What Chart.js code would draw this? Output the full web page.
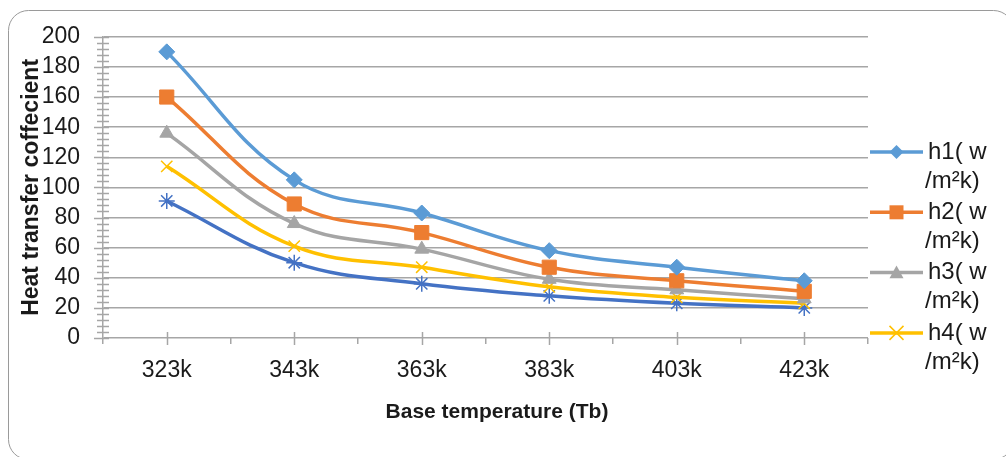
<!DOCTYPE html>
<html lang="en">
<head>
<meta charset="UTF-8">
<title>Heat transfer coeffecient vs base temperature</title>
<style>
  html, body { margin: 0; padding: 0; background: #fff; }
  .wrap { width: 1006px; height: 457px; }
  canvas { display: block; }
</style>
</head>
<body>
<div class="wrap"><canvas id="chart" width="1006" height="457"></canvas></div>

<script src="https://cdn.jsdelivr.net/npm/chart.js"></script>
<script>
// data
const categories = ['323k', '343k', '363k', '383k', '403k', '423k'];
const h1 = [190, 105, 83, 58, 47, 38];
const h2 = [160, 89, 70, 47, 38, 31];
const h3 = [136, 76, 59, 39, 32, 26];
const h4 = [114, 61, 47, 34, 27, 23];
const h5 = [91, 50, 36, 28, 23, 20];

const seriesNames = ['h1( w', 'h2( w', 'h3( w', 'h4( w', 'h5( w'];
const unitLine = '/m²k)';
const xTitle = 'Base temperature (Tb)';
const yTitle = 'Heat transfer coffecient';

const colors = ['#5b9bd5', '#ed7d31', '#a5a5a5', '#ffc000', '#4472c4'];
const styles = ['rectRot', 'rect', 'triangle', 'crossRot', 'star'];
const radii = [8, 10, 8, 8, 8];

const FONT = '"Liberation Sans", Arial, sans-serif';
const TEXT = '#1a1a1a';
const GRID = '#a6a6a6';

Chart.defaults.font.family = FONT;

function makeSet(i, values) {
    const thin = styles[i] === 'crossRot' || styles[i] === 'star';
    return {
        label: seriesNames[i] + ' ' + unitLine,
        data: values,
        borderColor: colors[i],
        backgroundColor: colors[i],
        borderWidth: 3.5,
        tension: 0.4,
        fill: false,
        pointStyle: styles[i],
        pointRadius: radii[i],
        pointBackgroundColor: colors[i],
        pointBorderColor: colors[i],
        pointBorderWidth: thin ? 1.5 : 1
    };
}

// little marker shapes for the hand-drawn legend
function marker(ctx, style, x, y, r) {
    ctx.beginPath();
    if (style === 'rectRot') {
        ctx.moveTo(x, y - r); ctx.lineTo(x + r, y); ctx.lineTo(x, y + r); ctx.lineTo(x - r, y);
        ctx.closePath(); ctx.fill();
    } else if (style === 'rect') {
        ctx.rect(x - r, y - r, 2 * r, 2 * r); ctx.fill();
    } else if (style === 'triangle') {
        ctx.moveTo(x, y - r); ctx.lineTo(x + r, y + r * 0.8); ctx.lineTo(x - r, y + r * 0.8);
        ctx.closePath(); ctx.fill();
    } else {
        ctx.lineWidth = 1.5;
        ctx.moveTo(x - r, y - r); ctx.lineTo(x + r, y + r);
        ctx.moveTo(x + r, y - r); ctx.lineTo(x - r, y + r);
        ctx.stroke();
    }
}

const decor = {
    id: 'decor',
    beforeDraw(chart) {
        const ctx = chart.ctx;
        ctx.save();
        ctx.fillStyle = '#fff';
        ctx.fillRect(0, 0, chart.width, chart.height);
        // chart frame (rounded, runs off right and bottom)
        ctx.strokeStyle = '#9a9a9a';
        ctx.lineWidth = 1;
        ctx.beginPath();
        ctx.roundRect(8.5, 10.5, 1005, 449, 20);
        ctx.stroke();
        ctx.restore();
    },
    beforeDatasetsDraw(chart) {
        const ctx = chart.ctx;
        const xs = chart.scales.x, ys = chart.scales.y;
        const area = chart.chartArea;
        ctx.save();
        ctx.strokeStyle = GRID;
        ctx.lineWidth = 1.5;
        ctx.beginPath();
        // y ticks crossing the axis
        ys.ticks.forEach(t => {
            const y = Math.round(ys.getPixelForValue(t.value)) + 0.5;
            const major = t.value % 20 === 0;
            ctx.moveTo(area.left - (major ? 9 : 6), y);
            ctx.lineTo(area.left + 6, y);
        });
        // x ticks at category centres
        categories.forEach((c, i) => {
            const x = Math.round(xs.getPixelForValue(i)) + 0.5;
            ctx.moveTo(x, area.bottom - 6);
            ctx.lineTo(x, area.bottom + 7);
        });
        ctx.stroke();
        ctx.restore();
    },
    afterDraw(chart) {
        const ctx = chart.ctx;
        const area = chart.chartArea;
        ctx.save();
        ctx.fillStyle = TEXT;
        // axis titles
        ctx.font = 'bold 21px ' + FONT;
        ctx.textAlign = 'center';
        ctx.textBaseline = 'middle';
        ctx.fillText(xTitle, 497, 412);
        ctx.translate(32, (area.top + area.bottom) / 2);
        ctx.rotate(-Math.PI / 2);
        ctx.font = 'bold 23px ' + FONT;
        ctx.fillText(yTitle, 0, 0);
        ctx.restore();

        // legend on the right, only four entries fit
        ctx.save();
        ctx.font = '24px ' + FONT;
        ctx.textBaseline = 'middle';
        ctx.textAlign = 'left';
        for (let i = 0; i < 4; i++) {
            const y = 152 + i * 60.3;
            ctx.strokeStyle = colors[i];
            ctx.fillStyle = colors[i];
            ctx.lineWidth = 3.5;
            ctx.beginPath();
            ctx.moveTo(870, y);
            ctx.lineTo(923, y);
            ctx.stroke();
            marker(ctx, styles[i], 896.5, y, 7);
            ctx.fillStyle = TEXT;
            ctx.fillText(seriesNames[i], 928, y);
            ctx.fillText(unitLine, 925, y + 29);
        }
        ctx.restore();
    }
};

const chart = new Chart(document.getElementById('chart'), {
    type: 'line',
    data: {
        labels: categories,
        datasets: [makeSet(0, h1), makeSet(1, h2), makeSet(2, h3), makeSet(3, h4), makeSet(4, h5)]
    },
    options: {
        responsive: false,
        animation: false,
        layout: { padding: { top: 36, right: 138, left: 0, bottom: 0 } },
        plugins: {
            legend: { display: false },
            tooltip: { enabled: false }
        },
        scales: {
            x: {
                offset: true,
                afterFit: s => { s.height = 119; },
                border: { display: false },
                grid: { offset: true, drawOnChartArea: false, tickLength: 6, color: GRID, lineWidth: 1.5 },
                ticks: { padding: 13, color: TEXT, font: { size: 23 }, maxRotation: 0 }
            },
            y: {
                min: 0,
                max: 200,
                afterFit: s => { s.width = 103; },
                border: { color: GRID, width: 1.5 },
                grid: {
                    drawTicks: false,
                    lineWidth: 1.5,
                    color: c => (c.tick && c.tick.value % 20 === 0) ? GRID : 'rgba(0,0,0,0)'
                },
                ticks: {
                    stepSize: 4,
                    autoSkip: false,
                    padding: 23,
                    color: TEXT,
                    font: { size: 23 },
                    callback: v => v % 20 === 0 ? v : ''
                }
            }
        }
    },
    plugins: [decor]
});
</script>
</body>
</html>
